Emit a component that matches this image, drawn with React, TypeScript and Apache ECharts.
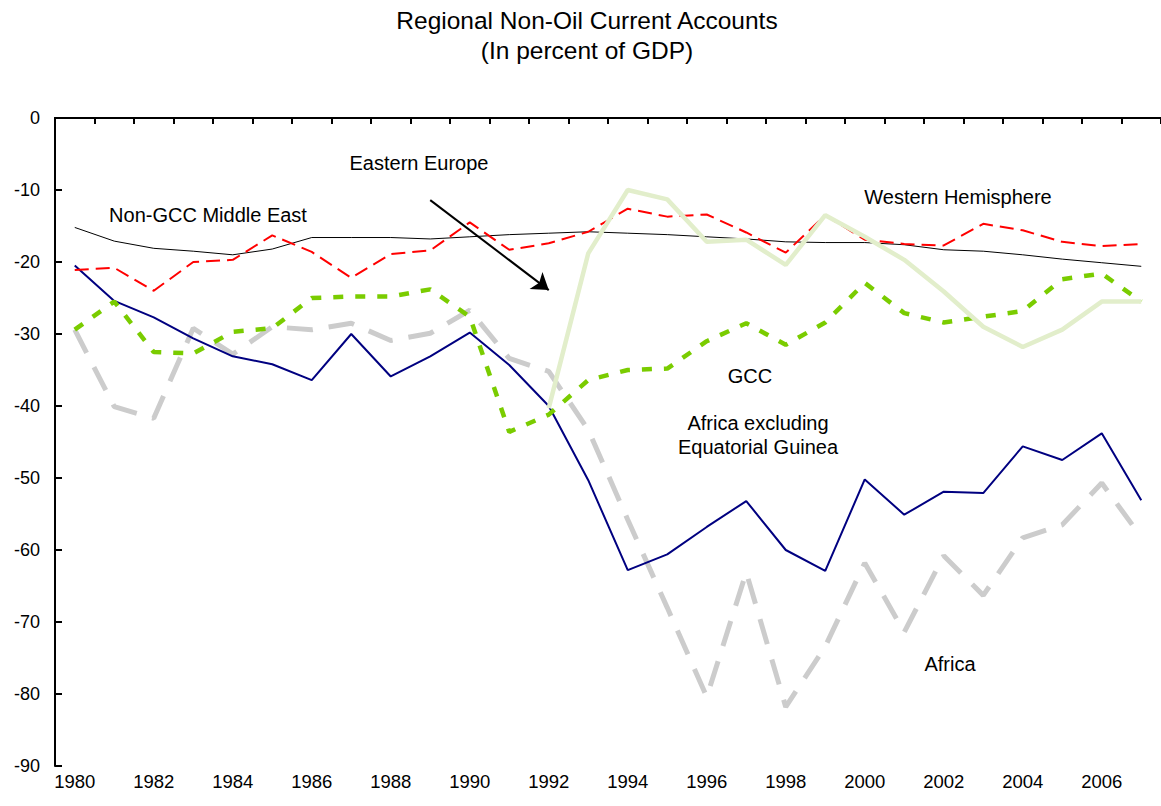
import React, { useEffect, useRef } from "react";
import * as echarts from "echarts";

const years = ["1980","1981","1982","1983","1984","1985","1986","1987","1988","1989","1990","1991","1992","1993","1994","1995","1996","1997","1998","1999","2000","2001","2002","2003","2004","2005","2006","2007"];

const africa = [-29.4,-40.1,-41.7,-29.2,-32.8,-29.0,-29.4,-28.5,-30.9,-29.9,-26.7,-33.4,-35.2,-43.3,-55.8,-68.0,-80.4,-63.1,-81.8,-73.4,-61.8,-71.4,-60.8,-66.3,-58.3,-56.5,-50.7,-58.2];
const africaExEG = [-20.5,-25.4,-27.7,-30.6,-33.1,-34.2,-36.4,-30.0,-35.9,-33.1,-29.8,-34.3,-40.0,-50.3,-62.8,-60.6,-56.8,-53.2,-60.0,-62.9,-50.2,-55.1,-51.9,-52.1,-45.6,-47.5,-43.8,-53.1];
const gcc = [-29.4,-25.5,-32.5,-32.7,-29.7,-29.2,-25.0,-24.8,-24.8,-23.8,-27.6,-43.6,-41.2,-36.4,-35.0,-34.8,-31.0,-28.5,-31.5,-28.4,-22.9,-27.1,-28.4,-27.6,-26.8,-22.4,-21.6,-25.5];
const nonGccME = [-15.2,-17.1,-18.1,-18.5,-19.0,-18.2,-16.6,-16.6,-16.6,-16.8,-16.5,-16.2,-16.0,-15.8,-16.0,-16.2,-16.5,-16.8,-17.2,-17.3,-17.3,-17.6,-18.3,-18.5,-19.0,-19.6,-20.1,-20.6];
const westernHem = [-21.1,-20.8,-24.0,-20.0,-19.7,-16.3,-18.6,-22.2,-18.9,-18.4,-14.5,-18.3,-17.4,-15.8,-12.6,-13.7,-13.4,-15.9,-18.7,-13.5,-16.9,-17.5,-17.7,-14.7,-15.6,-17.2,-17.8,-17.5];
const easternEurope = [null,null,null,null,null,null,null,null,null,null,null,null,-40.3,-18.8,-10.0,-11.3,-17.2,-16.9,-20.4,-13.5,-16.5,-19.7,-24.1,-29.0,-31.8,-29.4,-25.5,-25.5];

const yTicks = { min: -90, max: 0, interval: 10 };
const arrowFrom = ["1989", -11.4];
const arrowTo = ["1992", -23.9];

const FONT = "Liberation Sans, Arial, sans-serif";

export default function App() {
  const ref = useRef<HTMLDivElement>(null);
  useEffect(() => {
    if (!ref.current) return;
    const chart = echarts.init(ref.current, undefined, { renderer: "svg" });
    const txt = (t: string, x: number, y: number, size = 20) => ({
      type: "text",
      x,
      y,
      style: { text: t, fill: "#000", font: `${size}px ${FONT}`, textAlign: "center", textVerticalAlign: "middle" },
      z: 100,
    });
    chart.setOption({
      animation: false,
      backgroundColor: "#fff",
      grid: { left: 55, top: 118, width: 1109, height: 648, containLabel: false },
      xAxis: [
        {
          type: "category",
          data: years,
          position: "bottom",
          boundaryGap: true,
          axisLine: { show: true, lineStyle: { color: "#000", width: 2 } },
          axisTick: { show: false },
          axisLabel: { interval: 1, color: "#000", fontSize: 18.5, fontFamily: FONT, margin: 6 },
          splitLine: { show: false },
        },
        {
          type: "category",
          data: years,
          position: "top",
          boundaryGap: true,
          axisLine: { show: true, onZero: false, lineStyle: { color: "#000", width: 2 } },
          axisTick: { show: true, inside: true, length: 6, interval: 0, lineStyle: { color: "#000", width: 2 } },
          axisLabel: { show: false },
          splitLine: { show: false },
        },
      ],
      yAxis: {
        type: "value",
        min: yTicks.min,
        max: yTicks.max,
        interval: yTicks.interval,
        axisLine: { show: true, lineStyle: { color: "#000", width: 2 } },
        axisTick: { show: true, inside: true, length: 7, lineStyle: { color: "#000", width: 2 } },
        axisLabel: { color: "#000", fontSize: 18, fontFamily: FONT, margin: 15 },
        splitLine: { show: false },
      },
      series: [
        {
          name: "Africa",
          type: "line",
          data: africa,
          symbol: "none",
          lineStyle: { color: "#cccccc", width: 5, type: [26, 16] },
          z: 2,
        },
        {
          name: "Africa excluding Equatorial Guinea",
          type: "line",
          data: africaExEG,
          symbol: "none",
          lineStyle: { color: "#000080", width: 2 },
          z: 3,
        },
        {
          name: "GCC",
          type: "line",
          data: gcc,
          symbol: "none",
          lineStyle: { color: "#7acc00", width: 4.5, type: [10, 12] },
          z: 4,
        },
        {
          name: "Non-GCC Middle East",
          type: "line",
          data: nonGccME,
          symbol: "none",
          lineStyle: { color: "#000", width: 1 },
          z: 5,
        },
        {
          name: "Western Hemisphere",
          type: "line",
          data: westernHem,
          symbol: "none",
          lineStyle: { color: "#ff0000", width: 2, type: [14, 7] },
          z: 6,
        },
        {
          name: "Eastern Europe",
          type: "line",
          data: easternEurope,
          symbol: "none",
          connectNulls: false,
          lineStyle: { color: "#e2eecb", width: 4.5 },
          z: 7,
          markLine: {
            silent: true,
            symbol: ["none", "arrow"],
            symbolSize: 16,
            label: { show: false },
            emphasis: { disabled: true },
            itemStyle: { color: "#000" },
            lineStyle: { color: "#000", width: 2, type: "solid" },
            data: [[{ coord: arrowFrom }, { coord: arrowTo }]],
          },
        },
      ],
      graphic: [
        txt("Regional Non-Oil Current Accounts", 587, 20, 24.5),
        txt("(In percent of GDP)", 587, 50, 24.5),
        txt("Eastern Europe", 419, 163),
        txt("Non-GCC Middle East", 208, 215),
        txt("Western Hemisphere", 958, 197),
        txt("GCC", 750, 376),
        txt("Africa excluding", 758, 423),
        txt("Equatorial Guinea", 758, 447),
        txt("Africa", 950, 664),
      ],
    });
    return () => chart.dispose();
  }, []);
  return (
    <div
      ref={ref}
      style={{ position: "fixed", left: 0, top: 0, width: 1161, height: 806, background: "#fff" }}
    />
  );
}
